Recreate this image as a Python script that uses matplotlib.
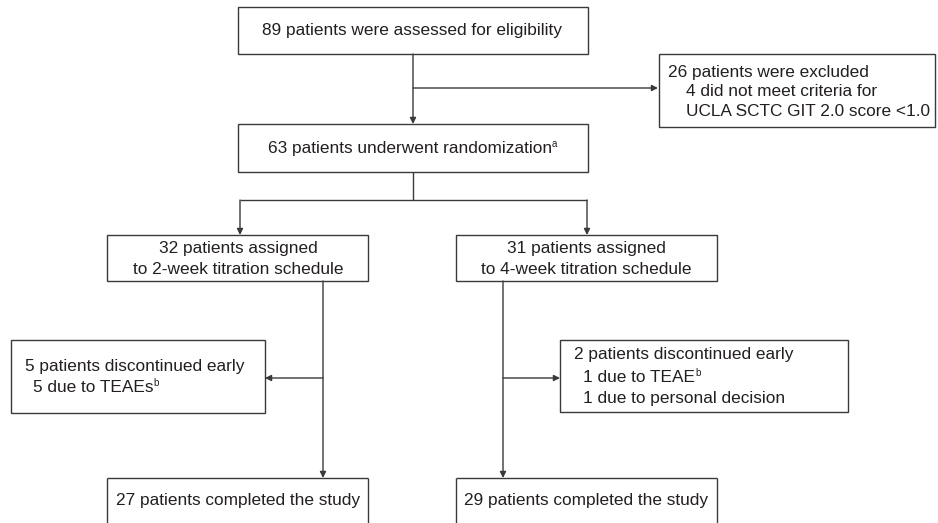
import matplotlib
matplotlib.use("Agg")
import matplotlib.pyplot as plt
from matplotlib.patches import Rectangle

plt.rcParams['font.family'] = ['Liberation Sans', 'DejaVu Sans']

# ---- data ----
assessed = 89
excluded = 26
not_meet = 4
randomized = 63
arms = ["2-week", "4-week"]
assigned = [32, 31]
discontinued = [5, 2]
disc_reasons = [[("5 due to TEAEs", "b")],
                [("1 due to TEAE", "b"), ("1 due to personal decision", "")]]
completed = [27, 29]

W, H = 938, 523
fig = plt.figure(figsize=(W / 100, H / 100), dpi=100)
ax = fig.add_axes([0, 0, 1, 1])
ax.set_xlim(0, W)
ax.set_ylim(H, 0)
ax.axis('off')

LC = '#3a3a3a'
TC = '#231f20'
FS = 12.4

def box(x0, y0, x1, y1):
    ax.add_patch(Rectangle((x0, y0), x1 - x0, y1 - y0, fill=False,
                           edgecolor=LC, lw=1.0, clip_on=False))

def line(xs, ys):
    ax.plot(xs, ys, color=LC, lw=1.0, solid_capstyle='butt')

def arrow(x0, y0, x1, y1):
    ax.annotate('', xy=(x1, y1), xytext=(x0, y0),
                arrowprops=dict(arrowstyle='-|>', color=LC, lw=1.0,
                                mutation_scale=9, shrinkA=0, shrinkB=0))

def sup(t, s):
    if s:
        ax.annotate(s, xy=(1, 0.5), xycoords=t, xytext=(0, -0.5),
                    textcoords='offset points', fontsize=7, color=TC,
                    ha='left', va='bottom')

def ctext(x, y, s, sp=""):
    t = ax.text(x, y, s, ha='center', va='center', fontsize=FS, color=TC)
    sup(t, sp)

def ltext(x, y, s, sp=""):
    t = ax.text(x, y, s, ha='left', va='center', fontsize=FS, color=TC)
    sup(t, sp)

# top box
box(238, 7, 588, 54)
ctext(412, 31, f"{assessed} patients were assessed for eligibility")
arrow(413, 54, 413, 124)
arrow(413, 88, 658, 88)

# exclusion box
box(659, 54, 935, 127)
ltext(668, 72, f"{excluded} patients were excluded")
ltext(686, 92, f"{not_meet} did not meet criteria for")
ltext(686, 112, "UCLA SCTC GIT 2.0 score <1.0")

# randomization
box(238, 124, 588, 172)
ctext(410, 148, f"{randomized} patients underwent randomization", "a")
line([413, 413], [172, 200])
line([240, 587], [200, 200])
arrow(240, 200, 240, 235)
arrow(587, 200, 587, 235)

# arm boxes
arm_cx = [238, 586]
arm_box = [(107, 368), (456, 717)]
stem_x = [323, 503]
for i in range(2):
    x0, x1 = arm_box[i]
    box(x0, 235, x1, 281)
    ctext(arm_cx[i], 249, f"{assigned[i]} patients assigned")
    ctext(arm_cx[i], 270, f"to {arms[i]} titration schedule")
    arrow(stem_x[i], 281, stem_x[i], 478)

# discontinued boxes
box(11, 340, 265, 413)
arrow(323, 378, 265, 378)
ltext(25, 366, f"{discontinued[0]} patients discontinued early")
for j, (r, s) in enumerate(disc_reasons[0]):
    ltext(33, 387 + 21 * j, r, s)

box(560, 340, 848, 412)
arrow(503, 378, 560, 378)
ltext(574, 355, f"{discontinued[1]} patients discontinued early")
for j, (r, s) in enumerate(disc_reasons[1]):
    ltext(583, 377 + 21 * j, r, s)

# completed boxes (cut at bottom)
for i in range(2):
    x0, x1 = arm_box[i]
    line([x0, x0], [530, 478])
    line([x0, x1], [478, 478])
    line([x1, x1], [478, 530])
    ctext(arm_cx[i], 501, f"{completed[i]} patients completed the study")

fig.savefig("out.png", dpi=100)
